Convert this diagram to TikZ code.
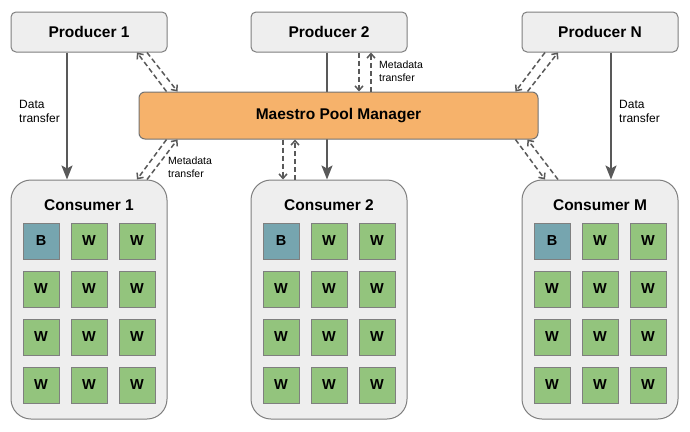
\documentclass[tikz,border=0pt]{standalone}
\usepackage{fontspec}
\setmainfont{Liberation Sans}
\usetikzlibrary{arrows.meta,calc}
\definecolor{boxfill}{HTML}{EEEEEE}
\definecolor{boxline}{HTML}{7F7F7F}
\definecolor{mfill}{HTML}{F6B26B}
\definecolor{wfill}{HTML}{93C47D}
\definecolor{bfill}{HTML}{76A5AF}
\definecolor{arr}{HTML}{595959}
\tikzset{
  prodbox/.style={draw=boxline,fill=boxfill,line width=1pt,rounded corners=5pt,
    minimum width=156pt,minimum height=40pt,inner sep=0pt,
    font=\fontsize{15.5}{18}\selectfont\bfseries},
  consbox/.style={draw=boxline,fill=boxfill,line width=1pt,rounded corners=20pt,
    minimum width=156pt,minimum height=239pt,inner sep=0pt},
  mgrbox/.style={draw=boxline!90!black,fill=mfill,line width=1pt,rounded corners=6pt,
    minimum width=399pt,minimum height=47pt,inner sep=0pt,
    font=\fontsize{15.5}{18}\selectfont\bfseries},
  titletext/.style={font=\fontsize{15.5}{18}\selectfont\bfseries,inner sep=0pt},
  cell/.style={draw=boxline,line width=1pt,minimum size=36pt,inner sep=0pt,
    font=\fontsize{14.5}{16}\selectfont\bfseries},
  wcell/.style={cell,fill=wfill},
  bcell/.style={cell,fill=bfill},
  dataarrow/.style={draw=arr,line width=2pt,-{Stealth[length=14pt,width=11pt,inset=3pt]}},
  metaarrow/.style={draw=arr,line width=1.5pt,dash pattern=on 5pt off 3pt,
    -{Straight Barb[length=4.5pt,width=8pt]}},
  biglabel/.style={font=\fontsize{12}{14}\selectfont,align=left,inner sep=0pt,anchor=west},
  smalllabel/.style={font=\fontsize{10.5}{13}\selectfont,align=left,inner sep=0pt,anchor=west},
}
\begin{document}
\begin{tikzpicture}[x=1pt,y=-1pt]
\useasboundingbox (0,0) rectangle (690,431);
\fill[white] (0,0) rectangle (690,431);

% producers
\node[prodbox] (p1) at (89,32) {Producer 1};
\node[prodbox] (p2) at (329,32) {Producer 2};
\node[prodbox] (pn) at (600,32) {Producer N};

% consumers
\foreach \nm/\cx/\lab in {c1/89/Consumer 1, c2/329/Consumer 2, cm/600/Consumer M}{
  \node[consbox] (\nm) at (\cx,299.5) {};
  \node[titletext] (\nm t) at (\cx,205) {\lab};
  \foreach \r/\ry in {1/241,2/289,3/337,4/385}{
    \foreach \c/\dx in {1/-48,2/0,3/48}{
      \pgfmathtruncatemacro{\isb}{(\r==1)&&(\c==1)}
      \ifnum\isb=1
        \node[bcell] (\nm-\r-\c) at (\cx+\dx,\ry) {B};
      \else
        \node[wcell] (\nm-\r-\c) at (\cx+\dx,\ry) {W};
      \fi
    }
  }
}

% data arrows (Producer 2 arrow passes behind the manager)
\draw[dataarrow] ($(p1.south)+(-22,0)$) -- ($(c1.north)+(-22,0)$);
\draw[dataarrow] ($(p2.south)+(-2,0)$) -- ($(c2.north)+(-2,0)$);
\draw[dataarrow] ($(pn.south)+(11,0)$) -- ($(cm.north)+(11,0)$);

% manager
\node[mgrbox] (m) at (338.5,115.5) {Maestro Pool Manager};

% metadata arrows
\draw[metaarrow] ($(m.north west)+(28,0)$) -- ($(p1.south)+(48,0)$);
\draw[metaarrow] ($(p1.south)+(58,0)$) -- ($(m.north west)+(39,0)$);
\draw[metaarrow] ($(m.south west)+(28,0)$) -- ($(c1.north)+(48,0)$);
\draw[metaarrow] ($(c1.north)+(58,0)$) -- ($(m.south west)+(39,0)$);

\draw[metaarrow] ($(p2.south)+(30,0)$) -- ($(m.north)+(20.5,0)$);
\draw[metaarrow] ($(m.north)+(32.5,0)$) -- ($(p2.south)+(42,0)$);
\draw[metaarrow] ($(m.south)+(-55.5,0)$) -- ($(c2.north)+(-46,0)$);
\draw[metaarrow] ($(c2.north)+(-34,0)$) -- ($(m.south)+(-43.5,0)$);

\draw[metaarrow] ($(pn.south)+(-55,0)$) -- ($(m.north east)+(-23,0)$);
\draw[metaarrow] ($(m.north east)+(-11,0)$) -- ($(pn.south)+(-42,0)$);
\draw[metaarrow] ($(m.south east)+(-23,0)$) -- ($(cm.north)+(-55,0)$);
\draw[metaarrow] ($(cm.north)+(-42,0)$) -- ($(m.south east)+(-11,0)$);

% labels
\node[biglabel] (l1) at (19,111.5) {Data\\transfer};
\node[biglabel] (l2) at (619,111.5) {Data\\transfer};
\node[smalllabel] (l3) at (379,71.5) {Metadata\\transfer};
\node[smalllabel] (l4) at (168,167.5) {Metadata\\transfer};
\end{tikzpicture}
\end{document}
